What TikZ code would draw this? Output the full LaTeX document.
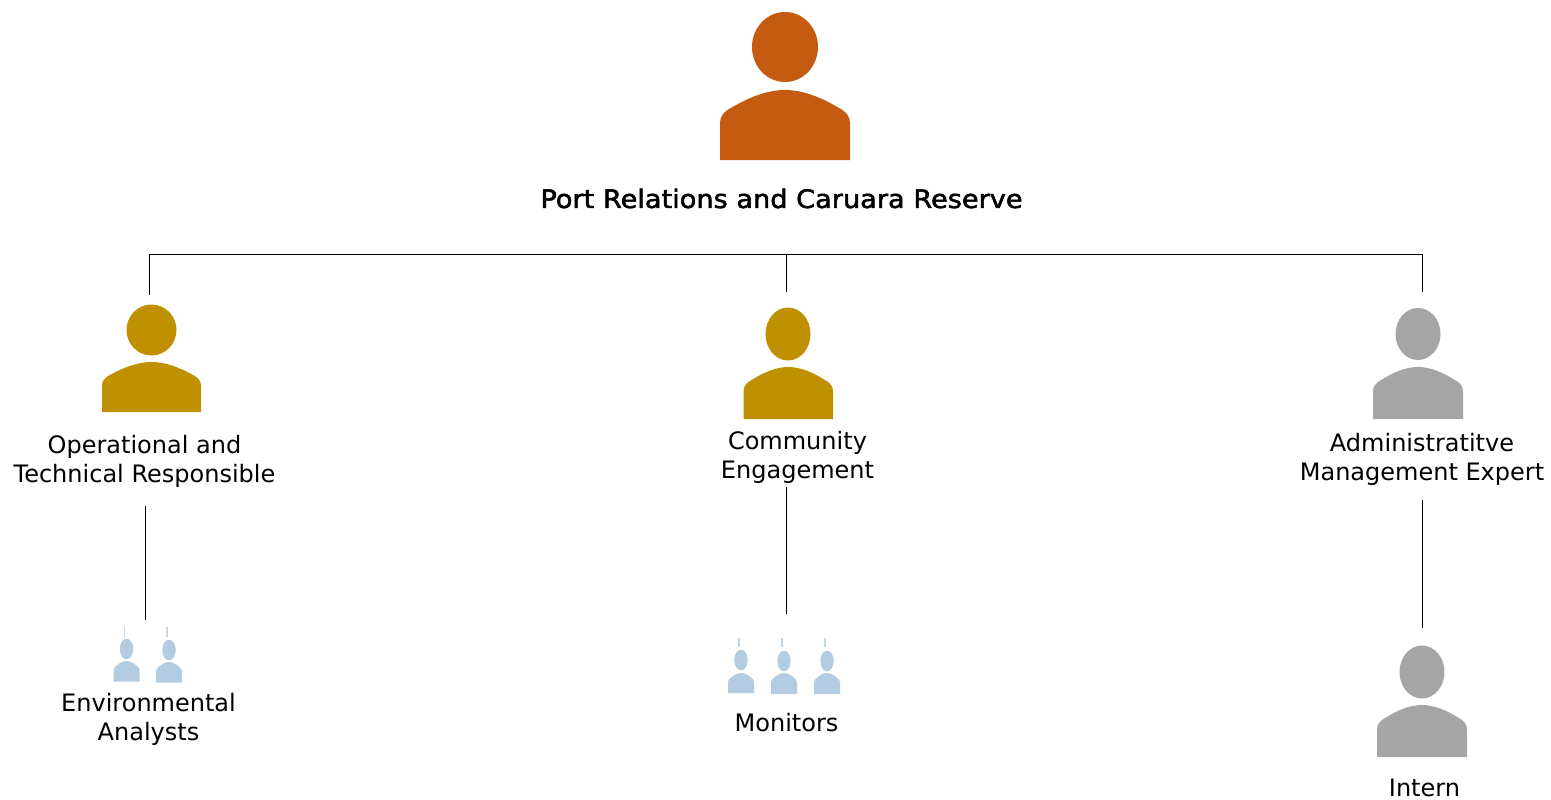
\documentclass[tikz,border=0pt]{standalone}
\usepackage{fontspec}
\setmainfont{DejaVu Sans}
\definecolor{cOrange}{HTML}{C55A11}
\definecolor{cGold}{HTML}{BF9000}
\definecolor{cGrey}{HTML}{A5A5A5}
\definecolor{cBlue}{HTML}{B4CCE1}
\definecolor{cTick}{HTML}{C5D6E8}
% #1 colour, #2 head cx, #3 head cy, #4 head rx, #5 head ry, #6 body left, #7 body right, #8 body top, #9 body bottom
\newcommand{\personfig}[9]{%
  \fill[#1] (#2,#3) ellipse [x radius=#4, y radius=#5];
  \fill[#1] (#6,#9) -- ({#6},{#8+0.47*(#9-#8)})
    .. controls ({#6},{#8+0.38*(#9-#8)}) and ({#6+0.025*(#7-#6)},{#8+0.31*(#9-#8)}) .. ({#6+0.10*(#7-#6)},{#8+0.24*(#9-#8)})
    .. controls ({#6+0.22*(#7-#6)},{#8+0.11*(#9-#8)}) and ({#6+0.36*(#7-#6)},#8) .. ({0.5*(#6+#7)},#8)
    .. controls ({#6+0.64*(#7-#6)},#8) and ({#6+0.78*(#7-#6)},{#8+0.11*(#9-#8)}) .. ({#6+0.90*(#7-#6)},{#8+0.24*(#9-#8)})
    .. controls ({#6+0.975*(#7-#6)},{#8+0.31*(#9-#8)}) and (#7,{#8+0.38*(#9-#8)}) .. (#7,{#8+0.47*(#9-#8)})
    -- (#7,#9) -- cycle;
}
\newfontfamily\titlefont[FakeBold=2,FakeStretch=1.07]{DejaVu Sans}
\tikzset{
  lab/.style={font=\fontsize{24pt}{29pt}\selectfont, align=center, inner sep=0pt, text=black},
  title/.style={font=\titlefont\fontsize{25.4pt}{30pt}\selectfont, inner sep=0pt, text=black},
  conn/.style={draw=black, line width=1pt, line cap=butt},
  tick/.style={draw=cTick, line width=1.2pt}
}
\begin{document}
\begin{tikzpicture}[x=1pt,y=-1pt]
\useasboundingbox (0,0) rectangle (1551,800);
% people
\personfig{cOrange}{785}{47}{33}{35}{720}{850}{90}{160}
\personfig{cGold}{151.5}{330}{25}{25.5}{102}{201}{362}{412}
\personfig{cGold}{788}{334}{22.5}{26.5}{743.5}{833}{367}{419}
\personfig{cGrey}{1418}{334}{22.5}{26}{1373}{1463}{367}{419}
\personfig{cGrey}{1422}{672}{22.5}{26.5}{1377}{1467}{705}{757}
\personfig{cBlue}{126.5}{649}{6.7}{10.3}{113.5}{139.5}{661}{681.5}
\personfig{cBlue}{169}{650}{6.7}{10.3}{156}{182}{662}{682.5}
\personfig{cBlue}{741}{660}{6.7}{10.3}{728}{754}{673}{693}
\personfig{cBlue}{784}{661}{6.7}{10.3}{771}{797}{673}{694}
\personfig{cBlue}{827}{661}{6.7}{10.3}{814}{840}{673}{694}
% small ticks above the small figures
\draw[tick] (124.5,627) -- (124.5,637);
\draw[tick] (167,627) -- (167,637);
\draw[tick] (739,638) -- (739,647);
\draw[tick] (782,638) -- (782,647);
\draw[tick] (825,638) -- (825,647);
% labels
\node[title] (root) at (781.5,198.5) {Port Relations and Caruara Reserve};
\node[lab] (op) at (144.5,461.2) {Operational and\\Technical Responsible};
\node[lab] (com) at (797.5,457.3) {Community\\Engagement};
\node[lab] (adm) at (1422,459.8) {Administratitve\\Management Expert};
\node[lab] (env) at (148.5,719.2) {Environmental\\Analysts};
\node[lab] (mon) at (786.5,723) {Monitors};
\node[lab] (int) at (1424.5,788) {Intern};
% connector ends
\coordinate (busL) at (149.5,254.6);
\coordinate (busM) at (786.7,254.6);
\coordinate (busR) at (1422.7,254.6);
\coordinate (opTop) at (149.5,295);
\coordinate (comTop) at (786.7,292);
\coordinate (admTop) at (1422.7,292);
\coordinate (opDown) at (145.3,506);
\coordinate (envUp) at (145.3,620);
\coordinate (comDown) at (786.7,487);
\coordinate (monUp) at (786.7,614);
\coordinate (admDown) at (1422.7,500);
\coordinate (intUp) at (1422.7,628);
\draw[conn] (opTop) -- (busL) -- (busR) -- (admTop);
\draw[conn] (busM) -- (comTop);
\draw[conn] (opDown) -- (envUp);
\draw[conn] (comDown) -- (monUp);
\draw[conn] (admDown) -- (intUp);
\end{tikzpicture}
\end{document}
